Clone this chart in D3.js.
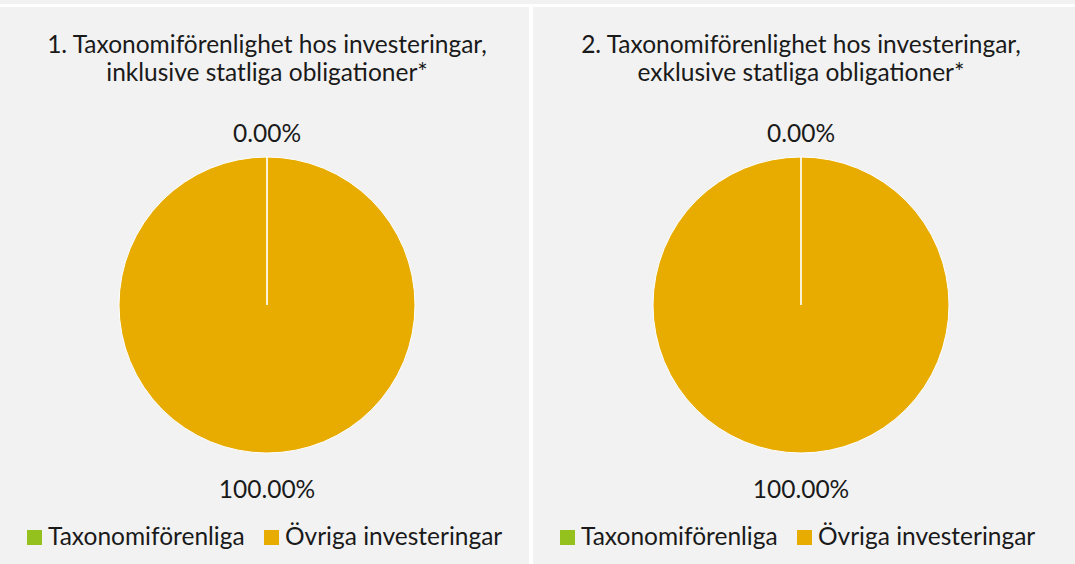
<!DOCTYPE html>
<html>
<head>
<meta charset="utf-8">
<script src="https://cdn.jsdelivr.net/npm/d3@7"></script>
<style>
  body { margin: 0; background: #ffffff; }
  text { font-family: Lato, "Open Sans", sans-serif; fill: #1a1a1a; }
</style>
</head>
<body>
<script>
// data
var categories = ["Taxonomiförenliga", "Övriga investeringar"];
var colors = ["#95c11f", "#e8ac00"];
var titles = [
  ["1. Taxonomiförenlighet hos investeringar,", "inklusive statliga obligationer*"],
  ["2. Taxonomiförenlighet hos investeringar,", "exklusive statliga obligationer*"]
];
var values1 = [0, 100];
var values2 = [0, 100];
var series = [values1, values2];

var W = 1075, H = 564;
var svg = d3.select("body").append("svg").attr("width", W).attr("height", H);

// thin strip on top (rest of a previous block)
svg.append("rect").attr("x", 0).attr("y", 0).attr("width", W).attr("height", 4).attr("fill", "#f2f2f2");

var panels = [{x: 0, w: 529}, {x: 533, w: 542}];
var color = d3.scaleOrdinal().domain(categories).range(colors);
var pie = d3.pie().sort(null).value(d => d.v);
var r = 148;
var arc = d3.arc().innerRadius(0).outerRadius(r);
var fs = "24.5px";

panels.forEach(function(p, i) {
  var g = svg.append("g").attr("transform", "translate(" + p.x + ",7)");
  g.append("rect").attr("width", p.w).attr("height", H - 7).attr("fill", "#f2f2f2");

  var cx = i == 0 ? 267 : 268;

  g.selectAll("text.title").data(titles[i]).enter().append("text")
    .attr("class", "title")
    .attr("x", cx).attr("y", (d, j) => 46 + j * 28)
    .attr("text-anchor", "middle")
    .style("font-size", fs)
    .text(d => d);

  var data = categories.map((c, k) => ({c: c, v: series[i][k]}));
  var pg = g.append("g").attr("transform", "translate(" + cx + ",298)");
  var arcs = pie(data);
  pg.selectAll("path").data(arcs).enter().append("path")
    .attr("d", arc)
    .attr("fill", d => color(d.data.c))
    .attr("stroke", "#ffffff")
    .attr("stroke-width", 1);

  // slice borders (so the empty slice still shows as a line)
  pg.selectAll("line.edge").data(arcs).enter().append("line")
    .attr("class", "edge")
    .attr("x1", 0).attr("y1", 0)
    .attr("x2", d => r * Math.sin(d.startAngle))
    .attr("y2", d => -r * Math.cos(d.startAngle))
    .attr("stroke", "#ffffff")
    .attr("stroke-width", 1.2);

  // labels: 0% slice sits on top, the full slice label goes under the pie
  var labelY = [-163, 193];
  pg.selectAll("text.lbl").data(arcs).enter().append("text")
    .attr("class", "lbl")
    .attr("x", 0).attr("y", (d, k) => labelY[k])
    .attr("text-anchor", "middle")
    .style("font-size", fs)
    .text(d => (d.data.v).toFixed(2) + "%");

  // legend
  var lx = [27, 264];
  var leg = g.selectAll("g.leg").data(categories).enter().append("g")
    .attr("class", "leg")
    .attr("transform", (d, k) => "translate(" + lx[k] + ",523)");
  leg.append("rect").attr("width", 15).attr("height", 15).attr("fill", d => color(d));
  leg.append("text").attr("x", 21).attr("y", 15)
    .style("font-size", fs)
    .text(d => d);
});
</script>
</body>
</html>
